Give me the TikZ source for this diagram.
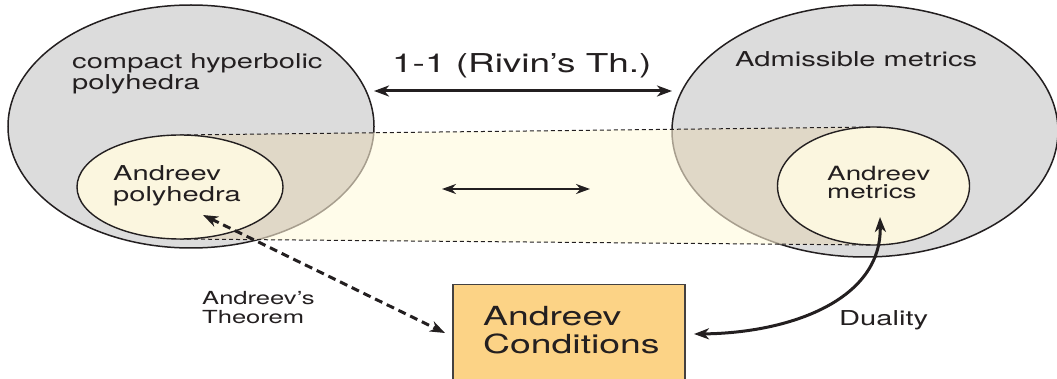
\documentclass[tikz,border=0pt]{standalone}
\usepackage{fontspec}
\setmainfont{TeX Gyre Heros}[FakeStretch=1.42]
\usetikzlibrary{arrows.meta,shapes.geometric}
\definecolor{ellgray}{HTML}{DCDCDC}
\definecolor{bandy}{HTML}{FFFCEA}
\definecolor{tanc}{HTML}{E0D8C7}
\definecolor{innery}{HTML}{FBF6DF}
\definecolor{boxc}{HTML}{FCD386}
\definecolor{txtc}{HTML}{231F20}
\definecolor{fadec}{HTML}{A79E8E}
\tikzset{
  lbl/.style={anchor=base west, inner sep=0pt, align=left, text=txtc, font=\fontsize{20.5}{21}\selectfont},
  bigell/.style={fill=ellgray, draw=txtc, line width=1.5pt},
  innerell/.style={fill=innery, draw=txtc, line width=1.4pt},
  dtip/.style={{Stealth[length=15pt, width=11pt, inset=4.5pt]}-{Stealth[length=15pt, width=11pt, inset=4.5pt]}},
  bandline/.style={draw=txtc, line width=1pt, dash pattern=on 4pt off 3pt},
}
\begin{document}
\begin{tikzpicture}[x=1pt,y=-1pt]
\useasboundingbox (0,0) rectangle (1057,379);
% big ellipses
\node[ellipse, bigell, minimum width=366pt, minimum height=243pt, inner sep=0pt] (lbig) at (191,126.5) {};
\node[ellipse, bigell, minimum width=386pt, minimum height=252pt, inner sep=0pt] (rbig) at (865,131) {};
% band
\coordinate (btl) at (180,135);
\coordinate (btr) at (873,127);
\coordinate (bbr) at (873,245);
\coordinate (bbl) at (180,239);
\fill[bandy] (btl) -- (btr) -- (bbr) -- (bbl) -- cycle;
\begin{scope}
  \clip (btl) -- (btr) -- (bbr) -- (bbl) -- cycle;
  \fill[tanc] (191,126.5) ellipse[x radius=183pt, y radius=121.5pt];
  \fill[tanc] (865,131) ellipse[x radius=193pt, y radius=126pt];
  \draw[fadec, line width=1.5pt] (191,126.5) ellipse[x radius=183pt, y radius=121.5pt];
  \draw[fadec, line width=1.5pt] (865,131) ellipse[x radius=193pt, y radius=126pt];
\end{scope}
\draw[bandline] (btl) -- (btr);
\draw[bandline] (bbl) -- (bbr);
% inner ellipses
\node[ellipse, innerell, minimum width=206pt, minimum height=104pt, inner sep=0pt] (lin) at (180,187) {};
\node[ellipse, innerell, minimum width=192pt, minimum height=118pt, inner sep=0pt] (rin) at (873.5,186) {};
% texts (base anchor = baseline of the last line)
\node[lbl] (tcomp) at (72,90) {compact hyperbolic\\polyhedra};
\node[lbl] (tadm) at (735,67) {Admissible metrics};
\node[lbl, font=\fontsize{26}{28}\selectfont] (triv) at (392,73) {1-1 (Rivin’s Th.)};
\node[lbl] (tapol) at (113,202) {Andreev\\polyhedra};
\node[lbl, font=\fontsize{19.6}{18.5}\selectfont] (tamet) at (827,199) {Andreev\\metrics};
\node[lbl, font=\fontsize{18}{18}\selectfont] (tthm) at (202,323) {Andreev’s\\Theorem};
\node[lbl] (tdual) at (839,325) {Duality};
% box
\node[draw=txtc!85, fill=boxc, line width=1.5pt, minimum width=232pt, minimum height=110pt, inner sep=0pt, anchor=north west] (box) at (452,284) {};
\node[lbl, font=\fontsize{26.3}{28}\selectfont] (tbox) at (483,353) {Andreev\\Conditions};
% arrows
\coordinate (a1) at (374,91);
\coordinate (a2) at (672,91);
\draw[dtip, line width=3pt, txtc] (a1) -- (a2);
\coordinate (m1) at (442,189);
\coordinate (m2) at (590,189);
\draw[{Stealth[length=14pt, width=10pt, inset=4.5pt]}-{Stealth[length=14pt, width=10pt, inset=4.5pt]}, line width=2pt, txtc] (m1) -- (m2);
\coordinate (d1) at (203,215);
\coordinate (d2) at (445,333);
\draw[dtip, line width=3pt, txtc, dash pattern=on 8pt off 5pt] (d1) -- (d2);
\coordinate (q1) at (880,217);
\coordinate (q2) at (694,334);
\draw[dtip, line width=3pt, txtc] (q1) .. controls (882,300) and (790,333) .. (q2);
\end{tikzpicture}
\end{document}
